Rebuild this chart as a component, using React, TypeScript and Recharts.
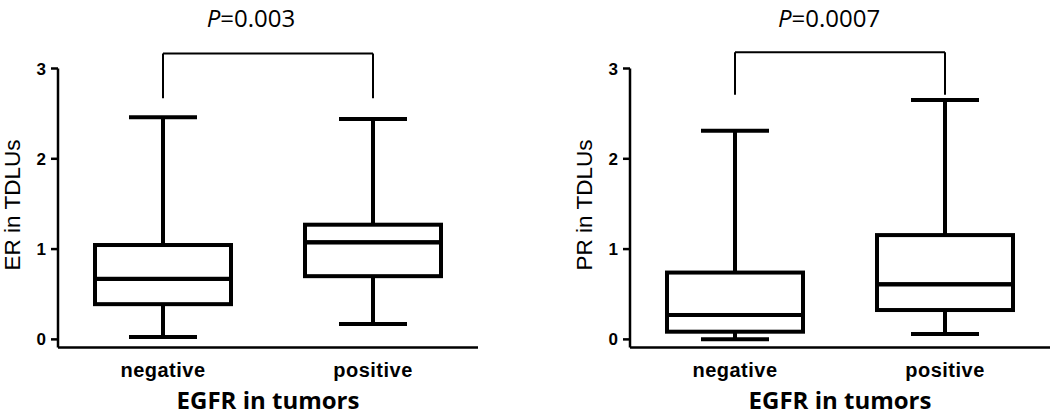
import { ComposedChart, Bar, XAxis, YAxis, ReferenceLine, Label } from "recharts";

const categories = ["negative", "positive"];

// ER in TDLUs (box plot stats per EGFR group)
const erMin = [0.025, 0.17];
const erQ1 = [0.39, 0.7];
const erMedian = [0.67, 1.075];
const erQ3 = [1.045, 1.27];
const erMax = [2.46, 2.44];

// PR in TDLUs
const prMin = [0, 0.06];
const prQ1 = [0.085, 0.325];
const prMedian = [0.27, 0.61];
const prQ3 = [0.74, 1.155];
const prMax = [2.31, 2.65];

const yTicks = [0, 1, 2, 3];

// significance brackets: [top, drop end]
const erBracket = [3.165, 2.67];
const prBracket = [3.18, 2.71];

const buildRows = (
  mins: number[],
  q1s: number[],
  meds: number[],
  q3s: number[],
  maxs: number[]
) =>
  categories.map((cat, i) => ({
    cat,
    base: mins[i],
    lowWhisker: q1s[i] - mins[i],
    lowBox: meds[i] - q1s[i],
    highBox: q3s[i] - meds[i],
    highWhisker: maxs[i] - q3s[i],
  }));

const erRows = buildRows(erMin, erQ1, erMedian, erQ3, erMax);
const prRows = buildRows(prMin, prQ1, prMedian, prQ3, prMax);

const BOX_STROKE = 4;

const segment = (kind: string) => (props: any) => {
  const { x, y, width, height } = props;
  const cx = x + width / 2;
  const top = Math.min(y, y + height);
  const bottom = Math.max(y, y + height);
  const capHalf = width / 4;
  if (kind === "lowBox" || kind === "highBox") {
    return (
      <rect
        x={x}
        y={top}
        width={width}
        height={bottom - top}
        fill="none"
        stroke="#000"
        strokeWidth={BOX_STROKE}
      />
    );
  }
  const capY = kind === "lowWhisker" ? bottom : top;
  return (
    <g>
      <line x1={cx} x2={cx} y1={top} y2={bottom} stroke="#000" strokeWidth={BOX_STROKE} />
      <line
        x1={cx - capHalf}
        x2={cx + capHalf}
        y1={capY}
        y2={capY}
        stroke="#000"
        strokeWidth={BOX_STROKE}
      />
    </g>
  );
};

const PLabel = (text: string, shift: number) => (props: any) => {
  const { viewBox } = props;
  const cx = viewBox.x + viewBox.width / 2 + shift;
  return (
    <text
      x={cx}
      y={27}
      textAnchor="middle"
      fontFamily="'Open Sans', sans-serif"
      fontSize={24}
      fill="#000"
    >
      <tspan fontStyle="italic">P</tspan>
      {text}
    </text>
  );
};

const YTitle = (text: string) => (props: any) => {
  const { viewBox } = props;
  const cx = viewBox.x + 12;
  const cy = viewBox.y + viewBox.height / 2 - 3;
  return (
    <text
      x={cx}
      y={cy}
      transform={`rotate(-90 ${cx} ${cy})`}
      textAnchor="middle"
      dominantBaseline="central"
      fontFamily="'Liberation Sans', Arial, sans-serif"
      fontSize={22.5}
      fill="#000"
    >
      {text}
    </text>
  );
};

const XTitle = (props: any) => {
  const { viewBox } = props;
  return (
    <text
      x={viewBox.x + viewBox.width / 2}
      y={viewBox.y + 61.5}
      textAnchor="middle"
      fontFamily="'Open Sans', sans-serif"
      fontWeight={700}
      fontSize={24}
      fill="#000"
    >
      EGFR in tumors
    </text>
  );
};

type PanelProps = {
  left: number;
  width: number;
  marginRight: number;
  rows: any[];
  yLabel: string;
  pText: string;
  pShift: number;
  bracket: number[];
};

const BoxPanel = ({ left, width, marginRight, rows, yLabel, pText, pShift, bracket }: PanelProps) => (
  <div style={{ position: "absolute", left, top: 0 }}>
    <ComposedChart
      width={width}
      height={417}
      data={rows}
      margin={{ top: 68.5, right: marginRight, bottom: 0, left: 0 }}
    >
      <XAxis
        dataKey="cat"
        height={69.5}
        tickSize={0}
        tickMargin={15}
        axisLine={{ stroke: "#000", strokeWidth: 2.5 }}
        tick={{
          fill: "#000",
          fontSize: 20,
          fontWeight: 700,
          fontFamily: "'Liberation Sans', Arial, sans-serif",
          letterSpacing: 0.5,
        }}
        label={{ content: XTitle }}
      />
      <YAxis
        domain={[-0.09, 3]}
        ticks={yTicks}
        width={58}
        tickSize={7}
        tickMargin={5}
        axisLine={{ stroke: "#000", strokeWidth: 2.5 }}
        tickLine={{ stroke: "#000", strokeWidth: 2.5 }}
        tick={{
          fill: "#000",
          fontSize: 17,
          fontWeight: 700,
          fontFamily: "'Liberation Sans', Arial, sans-serif",
        }}
        label={{ content: YTitle(yLabel) }}
      />
      <Bar dataKey="base" stackId="box" fill="none" barSize={136} isAnimationActive={false} />
      <Bar dataKey="lowWhisker" stackId="box" shape={segment("lowWhisker")} isAnimationActive={false} />
      <Bar dataKey="lowBox" stackId="box" shape={segment("lowBox")} isAnimationActive={false} />
      <Bar dataKey="highBox" stackId="box" shape={segment("highBox")} isAnimationActive={false} />
      <Bar dataKey="highWhisker" stackId="box" shape={segment("highWhisker")} isAnimationActive={false} />
      <ReferenceLine
        segment={[
          { x: categories[0], y: bracket[0] },
          { x: categories[1], y: bracket[0] },
        ]}
        stroke="#000"
        strokeWidth={2}
        ifOverflow="visible"
      >
        <Label content={PLabel(pText, pShift)} />
      </ReferenceLine>
      <ReferenceLine
        segment={[
          { x: categories[0], y: bracket[0] },
          { x: categories[0], y: bracket[1] },
        ]}
        stroke="#000"
        strokeWidth={2}
        ifOverflow="visible"
      />
      <ReferenceLine
        segment={[
          { x: categories[1], y: bracket[0] },
          { x: categories[1], y: bracket[1] },
        ]}
        stroke="#000"
        strokeWidth={2}
        ifOverflow="visible"
      />
    </ComposedChart>
  </div>
);

export default function App() {
  return (
    <div style={{ position: "relative", width: 1050, height: 417, background: "#fff", overflow: "hidden" }}>
      <style>{"body{margin:0}"}</style>
      <BoxPanel
        left={0}
        width={525}
        marginRight={47}
        rows={erRows}
        yLabel="ER in TDLUs"
        pText="=0.003"
        pShift={-17}
        bracket={erBracket}
      />
      <BoxPanel
        left={572}
        width={478}
        marginRight={0}
        rows={prRows}
        yLabel="PR in TDLUs"
        pText="=0.0007"
        pShift={-11}
        bracket={prBracket}
      />
    </div>
  );
}
